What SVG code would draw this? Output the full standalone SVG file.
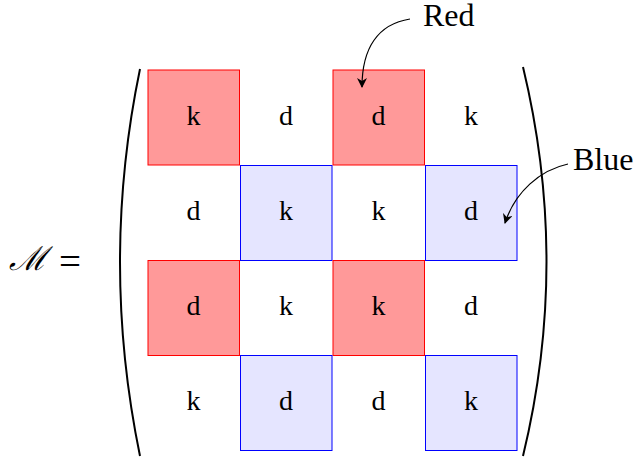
<svg xmlns="http://www.w3.org/2000/svg" width="636" height="458" viewBox="0 0 636 458">
<defs>
<style>
.red{fill:#ff9999;stroke:#ff0000;stroke-width:1}
.blue{fill:#e5e5ff;stroke:#0000ff;stroke-width:1}
.t{font-family:"Liberation Serif","DejaVu Serif",serif;font-size:28px;text-anchor:middle;fill:#000}
.lbl{font-family:"Liberation Serif","DejaVu Serif",serif;font-size:32px;fill:#000}
.eq{font-family:"Liberation Serif","DejaVu Serif",serif;font-size:39px;fill:#000}
.paren{fill:none;stroke:#000;stroke-width:2}
.arr{fill:none;stroke:#000;stroke-width:1.2}
</style>
<marker id="ah" viewBox="0 0 10 10" refX="9" refY="5" markerWidth="10" markerHeight="10" markerUnits="userSpaceOnUse" orient="auto">
<path d="M0,0 L10,5 L0,10 L3,5 Z" fill="#000"/>
</marker>
</defs>
<rect width="636" height="458" fill="#fff"/>
<g id="lhs">
<text x="9" y="270" font-family="DejaVu Serif,serif" font-style="italic" font-size="33">ℳ</text>
<text x="59" y="275" class="eq">=</text>
</g>
<g id="parens">
<path class="paren" d="M140,69 Q100,262 140,456"/>
<path class="paren" d="M523,67 Q570,262 523,456"/>
</g>
<g id="c00"><rect class="red" x="148" y="70" width="91.5" height="95"/><text class="t" x="193.5" y="124.5">k</text></g>
<g id="c01"><text class="t" x="286" y="124.5">d</text></g>
<g id="c02"><rect class="red" x="333" y="70" width="91.5" height="95"/><text class="t" x="378.5" y="124.5">d</text></g>
<g id="c03"><text class="t" x="471" y="124.5">k</text></g>
<g id="c10"><text class="t" x="193.5" y="219.6">d</text></g>
<g id="c11"><rect class="blue" x="240.5" y="165.5" width="91.5" height="95"/><text class="t" x="286" y="219.6">k</text></g>
<g id="c12"><text class="t" x="378.5" y="219.6">k</text></g>
<g id="c13"><rect class="blue" x="425.5" y="165.5" width="91.5" height="95"/><text class="t" x="471" y="219.6">d</text></g>
<g id="c20"><rect class="red" x="148" y="260.5" width="91.5" height="95"/><text class="t" x="193.5" y="314.7">d</text></g>
<g id="c21"><text class="t" x="286" y="314.7">k</text></g>
<g id="c22"><rect class="red" x="333" y="260.5" width="91.5" height="95"/><text class="t" x="378.5" y="314.7">k</text></g>
<g id="c23"><text class="t" x="471" y="314.7">d</text></g>
<g id="c30"><text class="t" x="193.5" y="409.8">k</text></g>
<g id="c31"><rect class="blue" x="240.5" y="355.5" width="91.5" height="95"/><text class="t" x="286" y="409.8">d</text></g>
<g id="c32"><text class="t" x="378.5" y="409.8">d</text></g>
<g id="c33"><rect class="blue" x="425.5" y="355.5" width="91.5" height="95"/><text class="t" x="471" y="409.8">k</text></g>
<g id="red-label"><text class="lbl" x="423" y="26">Red</text></g>
<g id="blue-label"><text class="lbl" x="573" y="170">Blue</text></g>
<g id="connectors">
<path class="arr" d="M410,19 C378,24 362,48 362,87" marker-end="url(#ah)"/>
<path class="arr" d="M568,164 C540,170 515,192 505,223" marker-end="url(#ah)"/>
</g>
</svg>
